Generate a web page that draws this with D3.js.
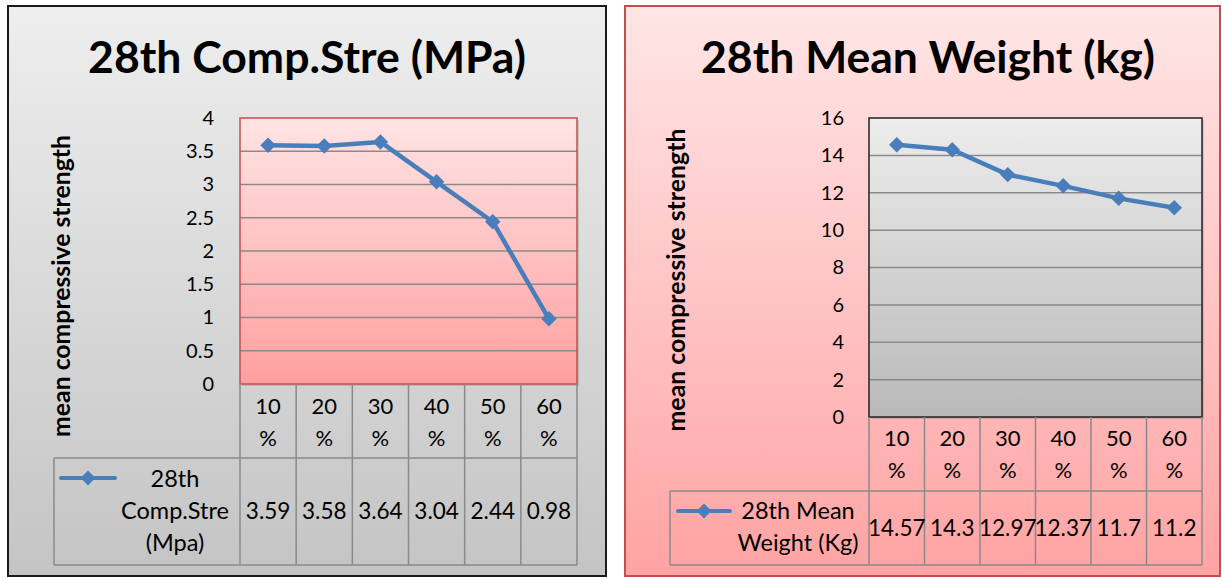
<!DOCTYPE html>
<html>
<head>
<meta charset="utf-8">
<script src="https://cdn.jsdelivr.net/npm/d3@7"></script>
<style>
  body { margin: 0; background: #fff; }
  text { font-family: Lato, "Open Sans", sans-serif; fill: #000; }
</style>
</head>
<body>
<svg id="chart" width="1222" height="579"></svg>
<script>
// data
var categories = ["10 %", "20 %", "30 %", "40 %", "50 %", "60 %"];
var compStre = [3.59, 3.58, 3.64, 3.04, 2.44, 0.98];
var meanWeight = [14.57, 14.3, 12.97, 12.37, 11.7, 11.2];
var compTicks = [0, 0.5, 1, 1.5, 2, 2.5, 3, 3.5, 4];
var weightTicks = [0, 2, 4, 6, 8, 10, 12, 14, 16];

var svg = d3.select("#chart");
var defs = svg.append("defs");

function grad(id, c1, c2) {
  var g = defs.append("linearGradient").attr("id", id)
    .attr("x1", 0).attr("y1", 0).attr("x2", 0).attr("y2", 1);
  g.append("stop").attr("offset", "0%").attr("stop-color", c1);
  g.append("stop").attr("offset", "100%").attr("stop-color", c2);
}
grad("bgGray", "#eeeeee", "#c4c4c4");
grad("bgPink", "#ffe6e6", "#ffa3a3");
grad("plotPink", "#ffe4e4", "#ff9f9f");
grad("plotGray", "#ededed", "#b9b9b9");

var blue = "#4a7ebb";
var gridColor = "#8a8a8a";

function drawPanel(cfg) {
  var g = svg.append("g");

  // panel background
  g.append("rect")
    .attr("x", cfg.box[0]).attr("y", cfg.box[1])
    .attr("width", cfg.box[2]).attr("height", cfg.box[3])
    .attr("fill", "url(#" + cfg.bg + ")")
    .attr("stroke", cfg.boxStroke).attr("stroke-width", 2);

  // title
  var t = g.append("text")
    .attr("x", cfg.titleX).attr("y", 73)
    .attr("text-anchor", "middle")
    .attr("font-weight", "bold")
    .attr("font-size", 44)
    .text(cfg.title);
  var w = t.node().getComputedTextLength();
  t.attr("font-size", 44 * cfg.titleW / w);

  // scales
  var x = d3.scaleBand().domain(categories).range([cfg.left, cfg.right]).padding(0);
  var y = d3.scaleLinear().domain([0, cfg.ticks[cfg.ticks.length - 1]]).range([cfg.bottom, cfg.top]);

  // plot area
  g.append("rect")
    .attr("x", cfg.left + 2).attr("y", cfg.top + 2)
    .attr("width", cfg.right - cfg.left).attr("height", cfg.bottom - cfg.top)
    .attr("fill", "#000").attr("opacity", 0.12);
  g.append("rect")
    .attr("x", cfg.left).attr("y", cfg.top)
    .attr("width", cfg.right - cfg.left).attr("height", cfg.bottom - cfg.top)
    .attr("fill", "url(#" + cfg.plotFill + ")");

  // gridlines
  g.selectAll(".grid")
    .data(cfg.ticks.slice(1, -1))
    .enter().append("line")
    .attr("x1", cfg.left).attr("x2", cfg.right)
    .attr("y1", function(d) { return y(d); })
    .attr("y2", function(d) { return y(d); })
    .attr("stroke", gridColor).attr("stroke-width", 1.5);

  g.append("rect")
    .attr("x", cfg.left).attr("y", cfg.top)
    .attr("width", cfg.right - cfg.left).attr("height", cfg.bottom - cfg.top)
    .attr("fill", "none").attr("stroke", cfg.plotStroke).attr("stroke-width", 1.5);

  // y axis
  var yAxis = g.append("g")
    .attr("transform", "translate(" + cfg.tickX + ",0)")
    .call(d3.axisLeft(y).tickValues(cfg.ticks).tickSize(0).tickPadding(0)
      .tickFormat(function(d) { return String(d); }));
  yAxis.select(".domain").remove();
  yAxis.selectAll("text")
    .attr("font-family", "Lato, sans-serif")
    .attr("font-size", 20).attr("fill", "#000");

  // y title
  var yt = g.append("text")
    .attr("transform", "translate(" + cfg.yTitleX + "," + cfg.yTitleY + ")rotate(-90)")
    .attr("text-anchor", "middle")
    .attr("dominant-baseline", "central")
    .attr("font-weight", "bold")
    .attr("font-size", 20)
    .text("mean compressive strength");
  var yw = yt.node().getComputedTextLength();
  yt.attr("font-size", 20 * cfg.yTitleLen / yw);

  // table lines
  var cols = categories.map(function(c) { return x(c); }).concat([cfg.right]);
  g.selectAll(".vline")
    .data(cols)
    .enter().append("line")
    .attr("x1", function(d) { return d; }).attr("x2", function(d) { return d; })
    .attr("y1", cfg.bottom).attr("y2", cfg.tableBottom)
    .attr("stroke", gridColor).attr("stroke-width", 1.5);
  g.append("line")
    .attr("x1", cfg.tableLeft).attr("x2", cfg.right)
    .attr("y1", cfg.rowLine).attr("y2", cfg.rowLine)
    .attr("stroke", gridColor).attr("stroke-width", 1.5);
  g.append("line")
    .attr("x1", cfg.tableLeft).attr("x2", cfg.right)
    .attr("y1", cfg.tableBottom).attr("y2", cfg.tableBottom)
    .attr("stroke", gridColor).attr("stroke-width", 1.5);
  g.append("line")
    .attr("x1", cfg.tableLeft).attr("x2", cfg.tableLeft)
    .attr("y1", cfg.rowLine).attr("y2", cfg.tableBottom)
    .attr("stroke", gridColor).attr("stroke-width", 1.5);

  // category labels (two lines)
  categories.forEach(function(c) {
    var parts = c.split(" ");
    parts.forEach(function(p, i) {
      g.append("text")
        .attr("x", x(c) + x.bandwidth() / 2)
        .attr("y", cfg.catY + i * 32)
        .attr("text-anchor", "middle")
        .attr("font-size", 22)
        .text(p);
    });
  });

  // values row
  g.selectAll(".val")
    .data(cfg.values)
    .enter().append("text")
    .attr("x", function(d, i) { return x(categories[i]) + x.bandwidth() / 2; })
    .attr("y", cfg.valY)
    .attr("text-anchor", "middle")
    .attr("font-size", 22.5)
    .text(function(d) { return String(d); });

  // legend
  g.append("line")
    .attr("x1", cfg.legLine[0]).attr("x2", cfg.legLine[1])
    .attr("y1", cfg.legLine[2]).attr("y2", cfg.legLine[2])
    .attr("stroke", blue).attr("stroke-width", 4).attr("stroke-linecap", "round");
  g.append("path")
    .attr("d", d3.symbol().type(d3.symbolSquare).size(110)())
    .attr("transform", "translate(" + (cfg.legLine[0] + cfg.legLine[1]) / 2 + "," + cfg.legLine[2] + ")rotate(45)")
    .attr("fill", blue);
  cfg.legendText.forEach(function(s, i) {
    g.append("text")
      .attr("x", cfg.legTextX)
      .attr("y", cfg.legTextY + i * 32)
      .attr("text-anchor", "middle")
      .attr("font-size", 23.5)
      .text(s);
  });

  // line + markers
  var line = d3.line()
    .x(function(d, i) { return x(categories[i]) + x.bandwidth() / 2; })
    .y(function(d) { return y(d); });
  g.append("path")
    .datum(cfg.values)
    .attr("d", line)
    .attr("fill", "none")
    .attr("stroke", blue)
    .attr("stroke-width", 4.5)
    .attr("stroke-linejoin", "round");
  g.selectAll(".pt")
    .data(cfg.values)
    .enter().append("path")
    .attr("d", d3.symbol().type(d3.symbolSquare).size(120)())
    .attr("transform", function(d, i) {
      return "translate(" + (x(categories[i]) + x.bandwidth() / 2) + "," + y(d) + ")rotate(45)";
    })
    .attr("fill", blue);
}

drawPanel({
  box: [8, 6, 598, 570], bg: "bgGray", boxStroke: "#1a1a1a",
  title: "28th Comp.Stre (MPa)", titleX: 307, titleW: 438,
  left: 240, right: 577, top: 118, bottom: 384,
  plotFill: "plotPink", plotStroke: "#c0504d",
  ticks: compTicks, tickX: 214,
  yTitleX: 60, yTitleY: 286, yTitleLen: 302,
  tableLeft: 54, rowLine: 458, tableBottom: 565,
  catY: 414, valY: 519,
  values: compStre,
  legLine: [61, 115, 478],
  legendText: ["28th", "Comp.Stre", "(Mpa)"], legTextX: 175, legTextY: 487
});

drawPanel({
  box: [625, 6, 595, 570], bg: "bgPink", boxStroke: "#c0504d",
  title: "28th Mean Weight (kg)", titleX: 928, titleW: 454,
  left: 869, right: 1202, top: 118, bottom: 417,
  plotFill: "plotGray", plotStroke: "#222",
  ticks: weightTicks, tickX: 844,
  yTitleX: 675, yTitleY: 280, yTitleLen: 303,
  tableLeft: 670, rowLine: 491, tableBottom: 565,
  catY: 446, valY: 536,
  values: meanWeight,
  legLine: [678, 730, 511],
  legendText: ["28th Mean", "Weight (Kg)"], legTextX: 798, legTextY: 519
});
</script>
</body>
</html>
